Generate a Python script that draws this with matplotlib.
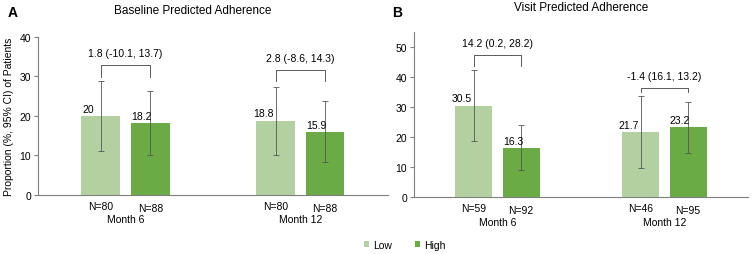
import numpy as np
import matplotlib.pyplot as plt


months = ['Month 6', 'Month 12']
groups = ['Low', 'High']

# panel A - baseline predicted adherence
a_low = [20, 18.8]
a_high = [18.2, 15.9]
a_low_ci = [(11.2, 28.8), (10.2, 27.3)]
a_high_ci = [(10.0, 26.3), (8.3, 23.7)]
a_low_n = ['N=80', 'N=80']
a_high_n = ['N=88', 'N=88']
a_diff = ['1.8 (-10.1, 13.7)', '2.8 (-8.6, 14.3)']
a_bracket = [(29.9, 32.9), (28.9, 31.6)]

# panel B - visit predicted adherence
b_low = [30.5, 21.7]
b_high = [16.3, 23.2]
b_low_ci = [(18.8, 42.3), (9.8, 33.7)]
b_high_ci = [(9.0, 24.0), (14.6, 31.7)]
b_low_n = ['N=59', 'N=46']
b_high_n = ['N=92', 'N=95']
b_diff = ['14.2 (0.2, 28.2)', '-1.4 (16.1, 13.2)']
b_bracket = [(43.7, 47.3), (35.0, 36.3)]

LOW_C = '#b3d1a0'
HIGH_C = '#6aab45'
GRID_C = '#7f7f7f'
FS = 7.5

plt.rcParams['font.family'] = ['Liberation Sans', 'DejaVu Sans']


def panel(ax, low, high, low_ci, high_ci, low_n, high_n, diff, bracket, ymax, title, letter):
    x = np.arange(len(months))
    off = 0.142
    w = 0.22
    ax.bar(x - off, low, w, color=LOW_C, label='Low')
    ax.bar(x + off, high, w, color=HIGH_C, label='High')
    for xs, vals, ci in [(x - off, low, low_ci), (x + off, high, high_ci)]:
        lo = [v - c[0] for v, c in zip(vals, ci)]
        hi = [c[1] - v for v, c in zip(vals, ci)]
        ax.errorbar(xs, vals, yerr=[lo, hi], fmt='none', ecolor='#555555',
                    elinewidth=0.6, capsize=2, capthick=0.6)
    for i in range(len(months)):
        ax.text(x[i] - off - 0.07, low[i] + 0.6 * ymax / 40, f'{low[i]:g}',
                ha='center', va='bottom', fontsize=FS)
        ax.text(x[i] + off - 0.05, high[i] + 0.6 * ymax / 40, f'{high[i]:g}',
                ha='center', va='bottom', fontsize=FS)
        b0, b1 = bracket[i]
        ax.plot([x[i] - off, x[i] - off, x[i] + off, x[i] + off], [b0, b1, b1, b0],
                color='#404040', lw=0.6)
        ax.text(x[i], b1 + 0.045 * ymax, diff[i], ha='center', va='bottom', fontsize=FS)
        ax.text(x[i] - off, -0.035, low_n[i], transform=ax.get_xaxis_transform(),
                ha='center', va='top', fontsize=FS)
        ax.text(x[i] + off, -0.05, high_n[i], transform=ax.get_xaxis_transform(),
                ha='center', va='top', fontsize=FS)
        ax.text(x[i], -0.12, months[i], transform=ax.get_xaxis_transform(),
                ha='center', va='top', fontsize=FS)
    ax.set_xlim(-0.5, 1.5)
    ax.set_xticks([])
    for s in ['top', 'right']:
        ax.spines[s].set_visible(False)
    for s in ['left', 'bottom']:
        ax.spines[s].set_color(GRID_C)
        ax.spines[s].set_linewidth(0.8)
    ax.tick_params(axis='y', labelsize=FS, length=3, color=GRID_C, width=0.8, pad=2)


fig = plt.figure(figsize=(7.53, 2.55), dpi=100)
ax1 = fig.add_axes([0.0505, 0.2314, 0.4645, 0.6196])
ax2 = fig.add_axes([0.5498, 0.2235, 0.4435, 0.6471])

panel(ax1, a_low, a_high, a_low_ci, a_high_ci, a_low_n, a_high_n, a_diff, a_bracket,
      40, 'Baseline Predicted Adherence', 'A')
ax1.set_ylim(0, 40)
ax1.set_yticks([0, 10, 20, 30, 40])
ax1.set_ylabel('Proportion (%, 95% CI) of Patients', fontsize=FS, labelpad=4)

panel(ax2, b_low, b_high, b_low_ci, b_high_ci, b_low_n, b_high_n, b_diff, b_bracket,
      50, 'Visit Predicted Adherence', 'B')
ax2.set_ylim(0, 55)
ax2.set_yticks([0, 10, 20, 30, 40, 50])

fig.text(193 / 753, 1 - 11 / 255, 'Baseline Predicted Adherence', ha='center', va='center', fontsize=8.5)
fig.text(581 / 753, 1 - 8 / 255, 'Visit Predicted Adherence', ha='center', va='center', fontsize=8.5)
fig.text(8 / 753, 1 - 13 / 255, 'A', ha='left', va='center', fontsize=10, fontweight='bold')
fig.text(392 / 753, 1 - 13 / 255, 'B', ha='left', va='center', fontsize=10, fontweight='bold')

handles, labels = ax1.get_legend_handles_labels()
fig.legend(handles, labels, loc='center', bbox_to_anchor=(405 / 753, 1 - 246 / 255), ncol=2,
           frameon=False, fontsize=FS, handlelength=0.5, handleheight=0.5,
           columnspacing=2.2, handletextpad=0.4)

fig.savefig('out.png', dpi=100)
